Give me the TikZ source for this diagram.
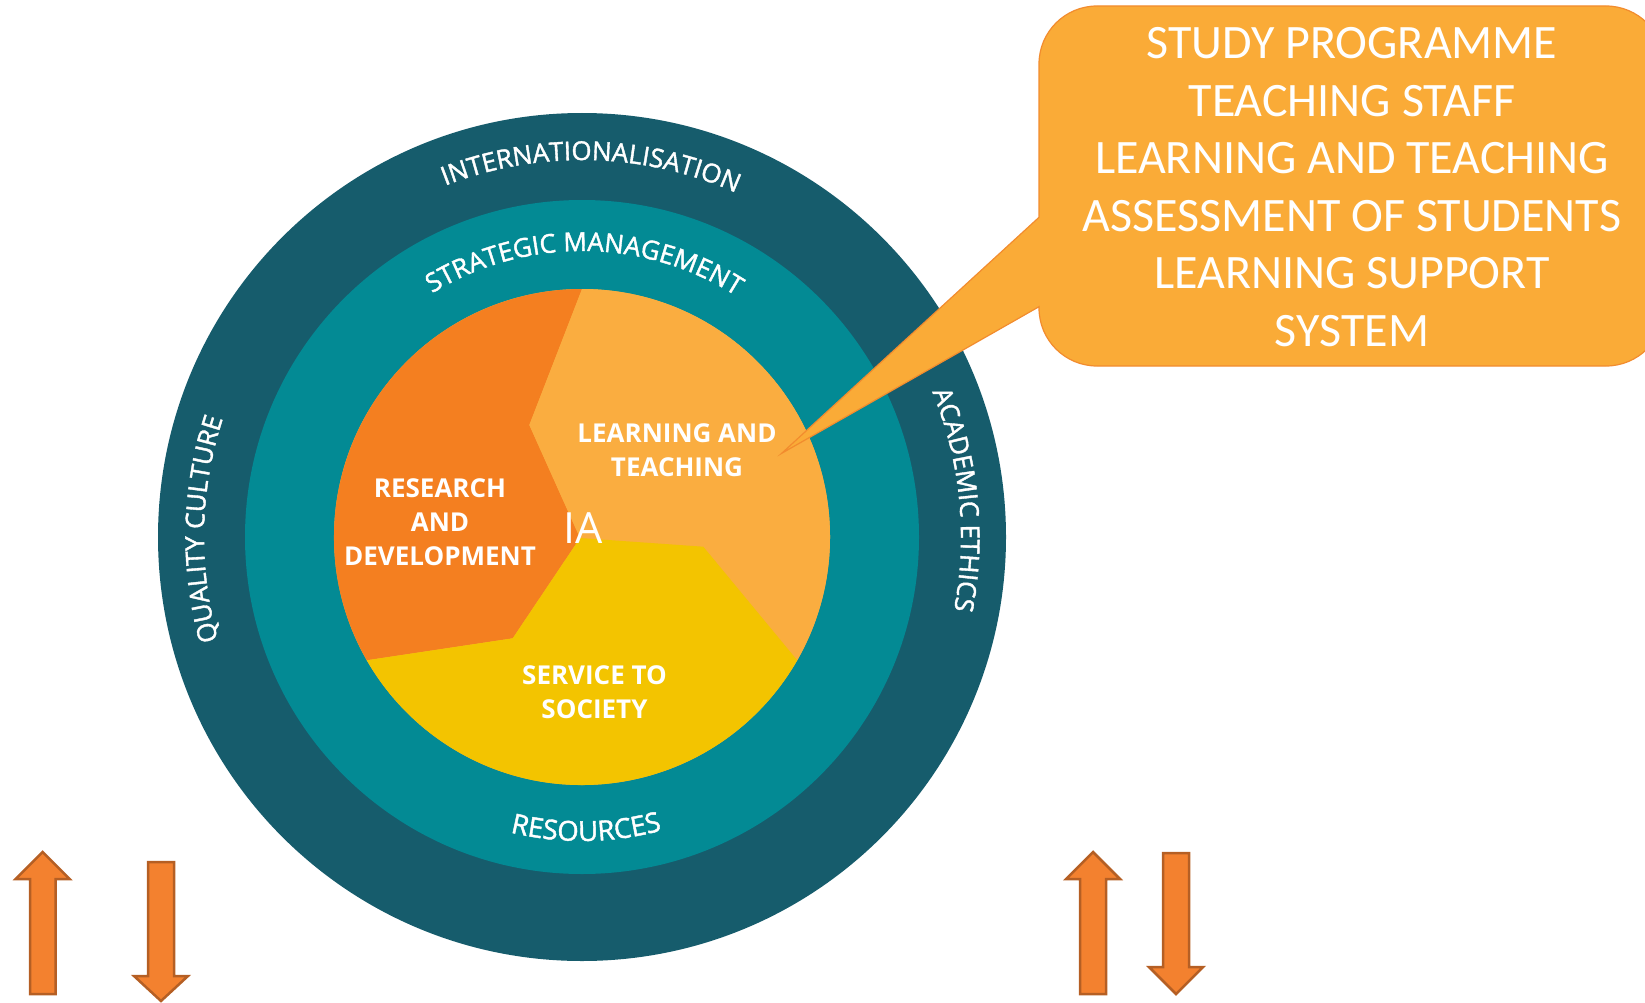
\documentclass[tikz,border=0pt]{standalone}
\usepackage{fontspec}
\setmainfont{Open Sans}
\newfontfamily\ringfamily{Open Sans}[FakeBold=1.5]
\newfontfamily\calloutfamily{Carlito}
\usetikzlibrary{decorations.text}

\definecolor{ringouter}{HTML}{165C6C}
\definecolor{ringmiddle}{HTML}{038A94}
\definecolor{research}{HTML}{F47F20}
\definecolor{learning}{HTML}{FAAD40}
\definecolor{service}{HTML}{F3C400}
\definecolor{calloutfill}{HTML}{FAAB37}
\definecolor{calloutline}{HTML}{F28C2E}
\definecolor{arrowfill}{HTML}{F3812F}
\definecolor{arrowline}{HTML}{B55F24}

\newcommand\ringfont{\ringfamily\fontsize{26}{30}\selectfont}
\newcommand\ringfontlarge{\ringfamily\fontsize{27.5}{30}\selectfont}
\newcommand\corefont{\bfseries\fontsize{26}{34}\selectfont}
\newcommand\hubfont{\fontsize{43}{50}\selectfont}
\newcommand\calloutfont{\calloutfamily\fontsize{48}{57.5}\selectfont}

\tikzset{
  ringtext/.style={decorate, decoration={text along path, text align=center,
      text color=white, text={|\ringfont|#1}}},
  ringtextlarge/.style={decorate, decoration={text along path, text align=center,
      text color=white, text={|\ringfontlarge|#1}}},
  corelabel/.style={text=white, font=\corefont, align=center, inner sep=0pt, anchor=north},
  hublabel/.style={text=white, font=\hubfont, inner sep=0pt, anchor=north},
  callouttext/.style={text=white, font=\calloutfont, align=center, inner sep=0pt, anchor=north},
  bigarrow/.style={fill=arrowfill, draw=arrowline, line width=2.5pt, line join=miter},
}

\begin{document}
\begin{tikzpicture}[x=1pt, y=1pt]
\clip (0,0) rectangle (1645,-1003);

% rings
\coordinate (C) at (582,-537);
\fill[ringouter] (C) circle[radius=424];
\fill[ringmiddle] (C) circle[radius=337];
\fill[learning] (C) circle[radius=248];

% core sectors
\coordinate (hub) at (580,-538);
\coordinate (kinkTop) at (529.3,-425);
\coordinate (kinkRight) at (703.3,-546.7);
\coordinate (kinkLeft) at (512.7,-638.3);
\coordinate (rimTop) at ([shift={(90:248)}]C);
\coordinate (rimRight) at ([shift={(-29.8:248)}]C);
\coordinate (rimLeft) at ([shift={(209.8:248)}]C);

\fill[research] (hub) -- (kinkLeft) -- (rimLeft)
  arc[start angle=209.8, end angle=90, radius=248] -- (kinkTop) -- cycle;
\fill[learning] (hub) -- (kinkTop) -- (rimTop)
  arc[start angle=90, end angle=-29.8, radius=248] -- (kinkRight) -- cycle;
\fill[service] (hub) -- (kinkRight) -- (rimRight)
  arc[start angle=-29.8, end angle=-150.2, radius=248] -- (kinkLeft) -- cycle;

% ring captions
\path[ringtext=INTERNATIONALISATION] ([shift={(128.6:377)}]C)
  arc[start angle=128.6, end angle=48.6, radius=377];
\path[ringtext=STRATEGIC MANAGEMENT] ([shift={(134.5:286)}]C)
  arc[start angle=134.5, end angle=44.5, radius=286];
\path[ringtextlarge=RESOURCES] ([shift={(235.8:304)}]C)
  arc[start angle=235.8, end angle=305.8, radius=304];
\path[ringtext=QUALITY CULTURE] ([shift={(223.8:378)}]C)
  arc[start angle=223.8, end angle=133.8, radius=378];
\path[ringtext=ACADEMIC ETHICS] ([shift={(50.7:379)}]C)
  arc[start angle=50.7, end angle=-39.3, radius=379];

% core labels
\node[corelabel] (rd) at (440,-478) {RESEARCH\\AND\\DEVELOPMENT};
\node[corelabel] (lt) at (677,-423) {LEARNING AND\\TEACHING};
\node[corelabel] (ss) at (594.5,-665) {SERVICE TO\\SOCIETY};
\node[hublabel] (ia) at (583,-512) {IA};

% callout with pointer
\filldraw[fill=calloutfill, draw=calloutline, line width=1.2pt, line join=miter]
  (1039,-217.3) -- (1039,-64)
  arc[start angle=180, end angle=90, radius=58] -- (1606,-6)
  arc[start angle=90, end angle=0, radius=58] -- (1664,-308)
  arc[start angle=0, end angle=-90, radius=58] -- (1097,-366)
  arc[start angle=270, end angle=180, radius=58] -- (1039,-306.7)
  -- (781.7,-453.3) -- cycle;
\node[callouttext] (list) at (1352,-27.4)
  {STUDY PROGRAMME\\TEACHING STAFF\\LEARNING AND TEACHING\\ASSESSMENT OF STUDENTS\\LEARNING SUPPORT\\SYSTEM};

% up / down arrows
\filldraw[bigarrow] (30,-994) -- (30,-879) -- (15.7,-879) -- (42.7,-852)
  -- (69.7,-879) -- (55.7,-879) -- (55.7,-994) -- cycle;
\filldraw[bigarrow] (148,-862) -- (174,-862) -- (174,-976) -- (188,-976)
  -- (161,-1001) -- (134,-976) -- (148,-976) -- cycle;
\filldraw[bigarrow] (1080,-994) -- (1080,-879) -- (1066,-879) -- (1093,-852)
  -- (1120,-879) -- (1106,-879) -- (1106,-994) -- cycle;
\filldraw[bigarrow] (1163,-853) -- (1189,-853) -- (1189,-967) -- (1203,-967)
  -- (1176,-994) -- (1149,-967) -- (1163,-967) -- cycle;
\end{tikzpicture}
\end{document}
